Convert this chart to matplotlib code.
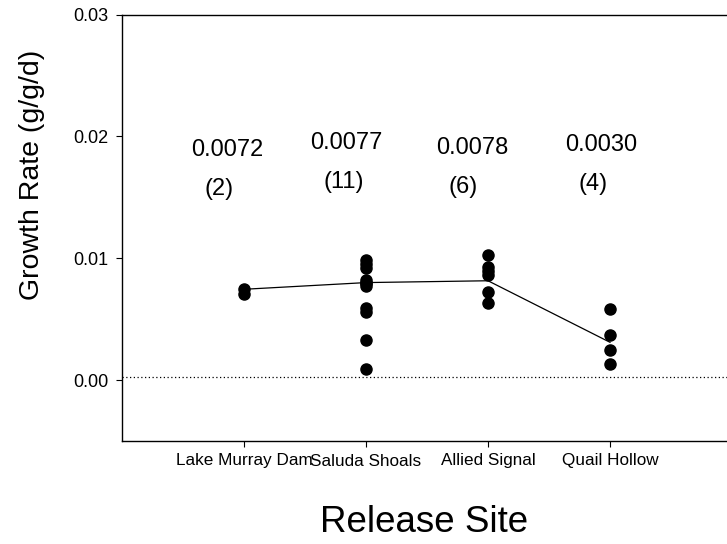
import matplotlib
matplotlib.use("Agg")
import matplotlib.pyplot as plt

plt.rcParams['font.family'] = ['Liberation Sans', 'DejaVu Sans']

sites = ["Lake Murray Dam", "Saluda Shoals", "Allied Signal", "Quail Hollow"]
lake_murray = [0.00747, 0.00706]
saluda_shoals = [0.00985, 0.00952, 0.00920, 0.00821, 0.00800, 0.00796, 0.00772,
                 0.00591, 0.00558, 0.00328, 0.00090]
allied_signal = [0.01026, 0.00928, 0.00895, 0.00862, 0.00722, 0.00632]
quail_hollow = [0.00583, 0.00369, 0.00246, 0.00131]
line_values = [0.00745, 0.00800, 0.00815, 0.00310]
mean_labels = ["0.0072", "0.0077", "0.0078", "0.0030"]
n_labels = ["(2)", "(11)", "(6)", "(4)"]
reference_level = 0.00022

# layout (positions of annotation text in data coords)
mean_label_pos = [(0.865, 0.01888), (1.836, 0.01946), (2.869, 0.01905), (3.926, 0.01929)]
n_label_pos = [(0.795, 0.01568), (1.820, 0.01626), (2.795, 0.01585), (3.861, 0.01609)]

W, H = 727, 544
fig = plt.figure(figsize=(W / 100, H / 100), dpi=100)
ax = fig.add_axes([122 / W, 1 - 441 / H, 610 / W, (441 - 14.5) / H])

groups = [lake_murray, saluda_shoals, allied_signal, quail_hollow]
for i, g in enumerate(groups):
    ax.plot([i + 1] * len(g), g, linestyle='none', marker='o', markersize=8,
            color='black', zorder=3)
ax.plot(range(1, len(line_values) + 1), line_values, color='black', linewidth=0.9, zorder=2)
ax.axhline(reference_level, color='black', linestyle=(0, (1, 2)), linewidth=0.9)

for (x, y), t in zip(mean_label_pos, mean_labels):
    ax.text(x, y, t, ha='center', va='center', fontsize=17)
for (x, y), t in zip(n_label_pos, n_labels):
    ax.text(x, y, t, ha='center', va='center', fontsize=17)

ax.set_xlim(0, 5)
ax.set_ylim(-0.005, 0.03)
ax.set_xticks(range(1, len(sites) + 1))
ax.set_xticklabels(sites, fontsize=12.3)
ax.set_yticks([0.0, 0.01, 0.02, 0.03])
ax.set_yticklabels(["0.00", "0.01", "0.02", "0.03"], fontsize=13)
ax.tick_params(axis='both', direction='out', length=4, width=0.8, color='black')
ax.tick_params(axis='y', pad=6)
ax.tick_params(axis='x', pad=5)
for s in ['left', 'bottom', 'top']:
    ax.spines[s].set_linewidth(1.0)
ax.spines['right'].set_visible(False)

fig.text(32 / W, 1 - 175 / H, "Growth Rate (g/g/d)", rotation=90, ha='center',
         va='center', fontsize=20.5)
fig.text(424 / W, 1 - 523 / H, "Release Site", ha='center', va='center', fontsize=26.5)

fig.savefig("out.png", dpi=100)
